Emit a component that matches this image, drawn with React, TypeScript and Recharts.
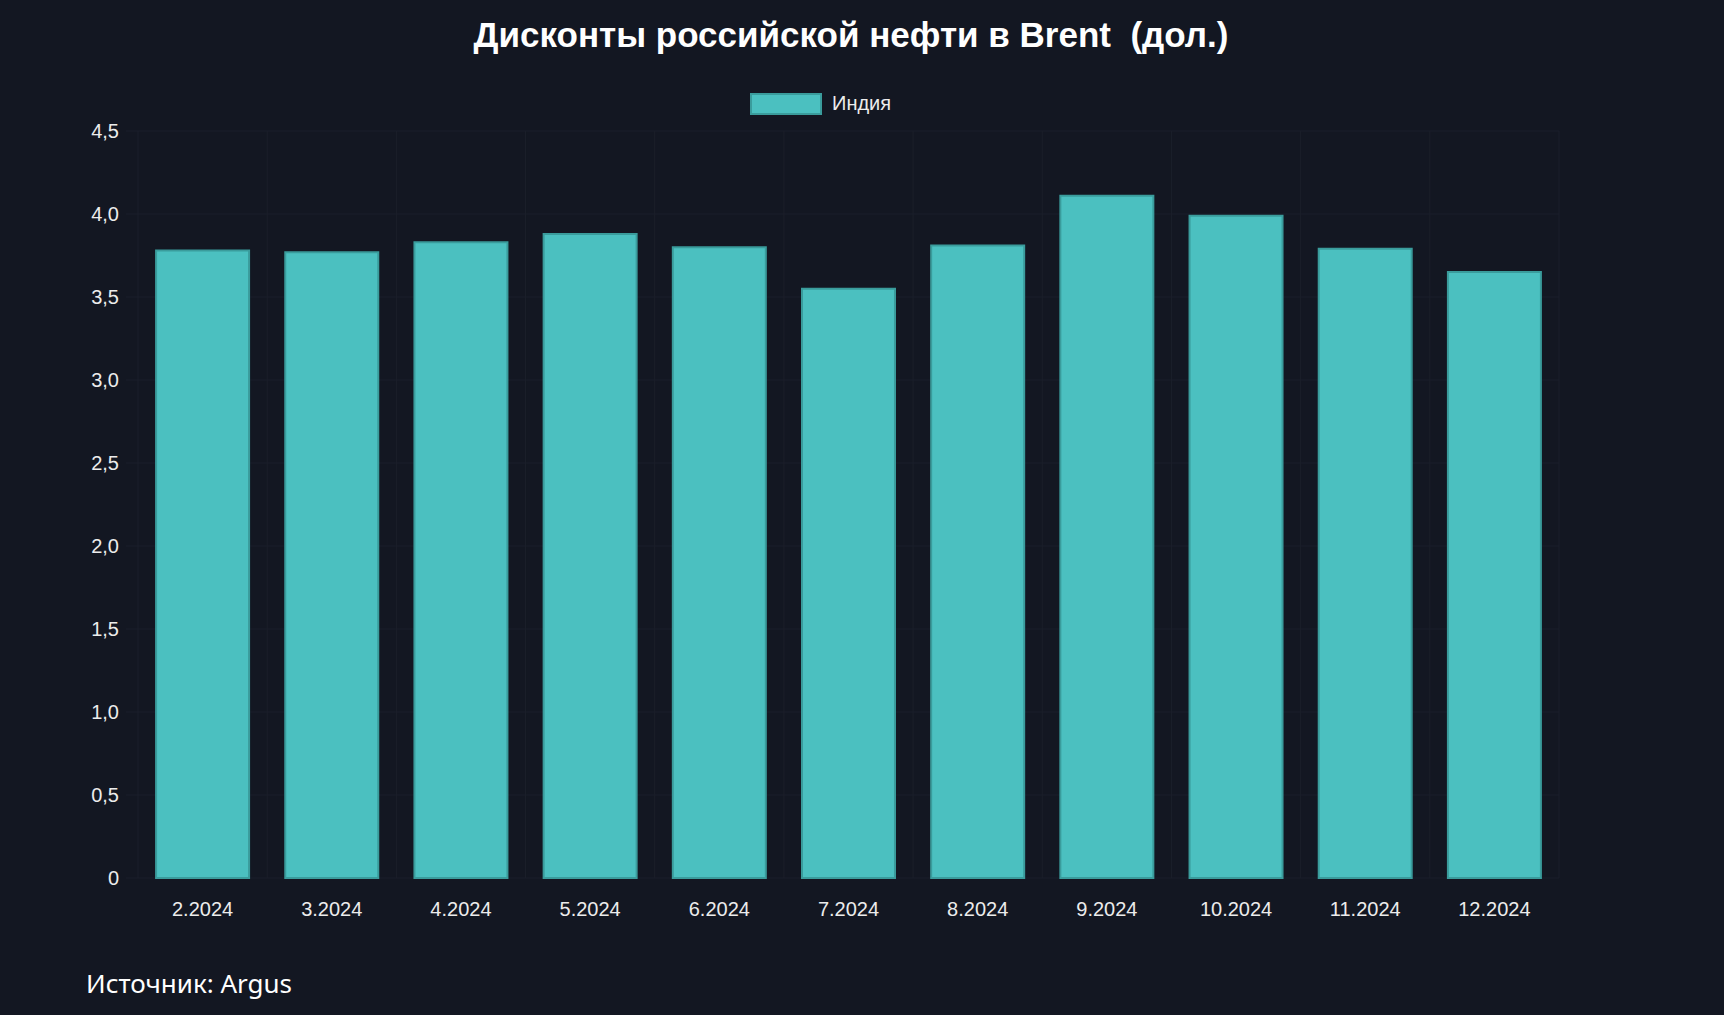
import { Bar, BarChart, CartesianGrid, Legend, XAxis, YAxis } from "recharts";

const months = ["2.2024", "3.2024", "4.2024", "5.2024", "6.2024", "7.2024", "8.2024", "9.2024", "10.2024", "11.2024", "12.2024"];
const india = [3.78, 3.77, 3.83, 3.88, 3.8, 3.55, 3.81, 4.11, 3.99, 3.79, 3.65];
const yTicks = [0, 0.5, 1, 1.5, 2, 2.5, 3, 3.5, 4, 4.5];

const data = months.map((m, i) => ({ month: m, india: india[i] }));

const BG = "#131722";
const GRID = "#1b1f2a";
const TEAL = "#4bc0c0";
const TEAL_BORDER = "#3a9c9c";
const TEXT = "#ececec";

const fmt = (v: number) => (v === 0 ? "0" : v.toFixed(1).replace(".", ","));

function LegendContent(props: any) {
  const items = props.payload || [];
  return (
    <div style={{ display: "flex", alignItems: "center" }}>
      {items.map((it: any) => (
        <div key={it.value} style={{ display: "flex", alignItems: "center" }}>
          <div style={{ width: 68, height: 18, background: TEAL, border: `2px solid ${TEAL_BORDER}` }} />
          <span style={{ marginLeft: 10, fontSize: 20, color: TEXT }}>{it.value}</span>
        </div>
      ))}
    </div>
  );
}

export default function App() {
  return (
    <div
      style={{
        position: "absolute",
        left: 0,
        top: 0,
        width: 1724,
        height: 1015,
        background: BG,
        overflow: "hidden",
        fontFamily: "'Liberation Sans', Arial, sans-serif",
      }}
    >
      <div
        style={{
          position: "absolute",
          left: 0,
          top: 17,
          width: 1702,
          textAlign: "center",
          color: "#ffffff",
          fontWeight: 700,
          fontSize: 35,
          lineHeight: "36px",
        }}
      >
        Дисконты российской нефти в Brent&nbsp;&nbsp;(дол.)
      </div>

      <div style={{ position: "absolute", left: 0, top: 0 }}>
        <BarChart
          width={1724}
          height={940}
          data={data}
          margin={{ top: 131, right: 165, bottom: 0, left: 2 }}
          barCategoryGap="14%"
        >
          <CartesianGrid
            stroke={GRID}
            strokeWidth={1}
            verticalCoordinatesGenerator={({ offset }: any) => {
              const step = offset.width / months.length;
              return months.map((_, i) => offset.left + i * step).concat(offset.left + offset.width);
            }}
          />
          <XAxis
            dataKey="month"
            interval={0}
            axisLine={false}
            tickLine={false}
            tickSize={0}
            tickMargin={24}
            height={62}
            tick={{ fill: TEXT, fontSize: 20 }}
          />
          <YAxis
            width={136}
            domain={[0, 4.5]}
            ticks={yTicks}
            tickFormatter={fmt}
            axisLine={false}
            tickLine={{ stroke: GRID }}
            tickSize={12}
            tickMargin={7}
            tick={{ fill: TEXT, fontSize: 20 }}
          />
          <Legend
            verticalAlign="middle"
            align="center"
            content={<LegendContent />}
            wrapperStyle={{ top: 92, left: 750, width: 300 }}
          />
          <Bar
            dataKey="india"
            name="Индия"
            fill={TEAL}
            stroke={TEAL_BORDER}
            strokeWidth={2}
            isAnimationActive={false}
          />
        </BarChart>
      </div>

      <div
        style={{
          position: "absolute",
          left: 86,
          top: 966,
          color: "#ffffff",
          fontSize: 26,
          lineHeight: "34px",
          fontFamily: "'Noto Sans', 'Open Sans', sans-serif",
        }}
      >
        Источник: Argus
      </div>
    </div>
  );
}
